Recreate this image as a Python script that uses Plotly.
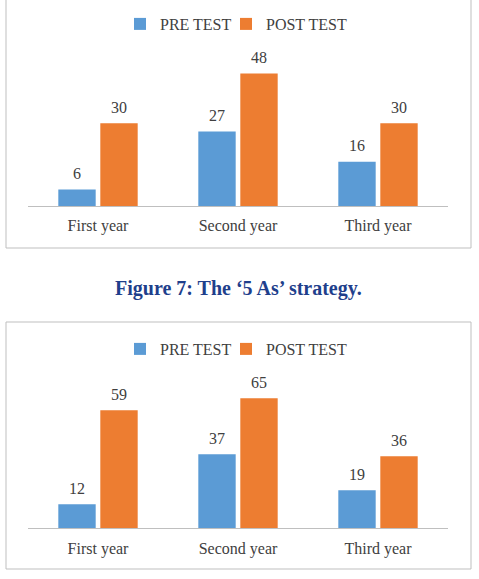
import plotly.graph_objects as go

categories = ["First year", "Second year", "Third year"]
pre_test_1 = [6, 27, 16]
post_test_1 = [30, 48, 30]
pre_test_2 = [12, 37, 19]
post_test_2 = [59, 65, 36]
series_names = ["PRE TEST", "POST TEST"]
caption = "Figure 7: The \u20185 As\u2019 strategy."

W, H = 479, 579
BLUE = "#5B9BD5"
ORANGE = "#ED7D31"
FONT = "Liberation Serif"

def py(px):
    return 1 - px / H

def px_(x):
    return x / W

fig = go.Figure()

for vals, name, color, xa, ya, lg in [
    (pre_test_1, series_names[0], BLUE, "x", "y", "legend"),
    (post_test_1, series_names[1], ORANGE, "x", "y", "legend2"),
    (pre_test_2, series_names[0], BLUE, "x2", "y2", "legend3"),
    (post_test_2, series_names[1], ORANGE, "x2", "y2", "legend4"),
]:
    fig.add_trace(go.Bar(
        x=categories, y=vals, name=name, marker_color=color,
        marker_line_width=0,
        text=vals,
        texttemplate="<span style='font-size:16px'>%{text}</span><br> ",
        textposition="outside",
        textfont=dict(family=FONT, size=5, color="#404040"),
        cliponaxis=False, xaxis=xa, yaxis=ya, legend=lg,
    ))

axis_common = dict(showgrid=False, zeroline=False, ticks="",
                   ticklabelstandoff=5,
                   tickfont=dict(family=FONT, size=16, color="#404040"))

leg_common = dict(orientation="h", xanchor="left", yanchor="middle",
                  font=dict(family=FONT, size=16, color="#404040"),
                  bgcolor="rgba(0,0,0,0)", itemwidth=30)

fig.update_layout(
    width=W, height=H,
    margin=dict(l=0, r=0, t=0, b=0),
    paper_bgcolor="white", plot_bgcolor="white",
    showlegend=True,
    barmode="group", bargap=0.4, bargroupgap=0.11,
    xaxis=dict(domain=[px_(28), px_(448)], anchor="y", showline=True,
               linecolor="#BFBFBF", linewidth=1, **axis_common),
    yaxis=dict(domain=[py(206), py(206 - 55 * 2.76)], range=[0, 55],
               visible=False, anchor="x"),
    xaxis2=dict(domain=[px_(28), px_(448)], anchor="y2", showline=True,
                linecolor="#BFBFBF", linewidth=1, **axis_common),
    yaxis2=dict(domain=[py(528.3), py(528.3 - 75 * 2.0)], range=[0, 75],
                visible=False, anchor="x2"),
    legend=dict(x=px_(120), y=py(24), **leg_common),
    legend2=dict(x=px_(226), y=py(24), **leg_common),
    legend3=dict(x=px_(120), y=py(349), **leg_common),
    legend4=dict(x=px_(226), y=py(349), **leg_common),
    shapes=[
        dict(type="rect", xref="paper", yref="paper",
             x0=px_(6), x1=px_(471), y0=py(-2), y1=py(248),
             line=dict(color="#BFBFBF", width=1)),
        dict(type="rect", xref="paper", yref="paper",
             x0=px_(6), x1=px_(471), y0=py(322), y1=py(569),
             line=dict(color="#BFBFBF", width=1)),
    ],
    annotations=[
        dict(text="<b>" + caption + "</b>", xref="paper", yref="paper",
             x=px_(238), y=py(288), xanchor="center", yanchor="middle",
             showarrow=False,
             font=dict(family=FONT, size=20, color="#1F3F8C")),
    ],
)

fig.write_html("out.html")
